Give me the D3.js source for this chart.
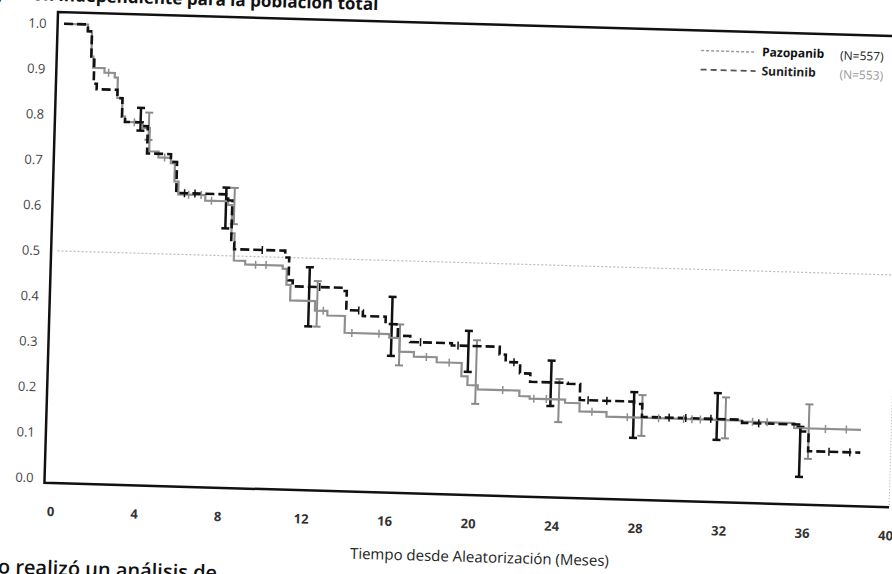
<!DOCTYPE html>
<html><head><meta charset="utf-8">
<script src="https://cdn.jsdelivr.net/npm/d3@7"></script>
<style>html,body{margin:0;padding:0;background:#fff;}svg{display:block;font-family:"Open Sans","DejaVu Sans",sans-serif;}</style>
</head><body>
<script>
const monthTicks = [0,4,8,12,16,20,24,28,32,36,40];
const survTicks = [0,0.1,0.2,0.3,0.4,0.5,0.6,0.7,0.8,0.9,1.0];
const seriesNames = ["Pazopanib","Sunitinib"];
const seriesN = ["(N=557)","(N=553)"];
const pazTime = [0,1.15,1.35,1.45,2.0,2.5,2.65,2.9,3.05,3.9,4.25,4.7,5.3,5.5,5.7,7.0,8.1,8.3,8.45,9.0,10.8,11.0,11.2,12.4,13.0,13.85,16.0,16.5,17.2,18.3,19.5,19.8,20.3,22.3,22.8,24.5,25.2,26.5,33.0,35.5,38.7];
const pazSurv = [1,0.985,0.93,0.905,0.895,0.885,0.84,0.80,0.788,0.776,0.725,0.712,0.70,0.66,0.632,0.62,0.612,0.55,0.49,0.482,0.475,0.44,0.406,0.385,0.375,0.338,0.33,0.30,0.29,0.279,0.25,0.231,0.222,0.21,0.205,0.198,0.18,0.17,0.168,0.157,0.157];
const sunTime = [0,1.15,1.35,1.5,1.65,2.65,2.9,3.05,3.9,4.15,5.3,5.6,8.1,8.3,8.45,10.9,11.1,11.3,13.8,13.9,14.7,15.8,16.4,17.0,19.0,21.3,21.6,22.3,22.8,24.6,25.2,27.8,28.2,33.0,35.8,36.2,38.7];
const sunSurv = [1,0.985,0.93,0.87,0.858,0.84,0.80,0.788,0.78,0.72,0.703,0.635,0.622,0.53,0.515,0.50,0.45,0.437,0.43,0.388,0.376,0.36,0.335,0.322,0.317,0.30,0.284,0.26,0.242,0.24,0.205,0.2,0.172,0.165,0.15,0.107,0.107];
const pazCensor = [2.2,3.5,5.0,6.2,6.8,7.3,9.5,10.0,12.8,14.2,15.5,17.8,18.9,21.5,23.0,23.6,25.8,27.5,29.0,30.2,30.6,31.0,33.5,34.2,37.0,38.0];
const sunCensor = [6.0,6.5,9.8,12.6,14.5,17.5,19.3,22.0,25.6,26.5,29.5,30.3,31.5,33.8,37.2,38.2];
const ciTime = [4,8.2,12.3,16.3,20,24,28,32,36];
const pazLo = [0.75,0.57,0.35,0.27,0.19,0.155,0.13,0.13,0.09];
const pazHi = [0.81,0.65,0.45,0.36,0.33,0.25,0.22,0.22,0.21];
const sunLo = [0.77,0.56,0.35,0.29,0.26,0.19,0.125,0.126,0.05];
const sunHi = [0.82,0.65,0.48,0.42,0.35,0.29,0.226,0.229,0.16];

const svg = d3.select("body").append("svg").attr("width",892).attr("height",574);
svg.append("rect").attr("width",892).attr("height",574).attr("fill","#fff");
const g = svg.append("g").attr("transform","rotate(1.65,58,12)");

const L=58, T=12, R=903, B=483;
const x = d3.scaleLinear().domain([0,40]).range([64.4,899.8]);
const y = d3.scaleLinear().domain([0,1]).range([478,23.6]);

// header text (cut off at the page top, as in the scan)
g.append("text").attr("x",378).attr("y",1).attr("text-anchor","end")
 .attr("font-size",17).attr("font-weight","bold").attr("fill","#111")
 .text("supervivencia libre de progresión independiente para la población total");

// reference line at 0.5
g.append("line").attr("x1",x(0)).attr("x2",x(40)).attr("y1",y(0.5)).attr("y2",y(0.5))
 .attr("stroke","#bbb").attr("stroke-width",1.2).attr("stroke-dasharray","2,2");

// frame
g.append("line").attr("x1",R).attr("x2",R).attr("y1",T).attr("y2",B).attr("stroke","#aaa").attr("stroke-width",1).attr("stroke-dasharray","1,2");
g.append("path").attr("d",`M${R},${T}H${L}V${B}H${R}`).attr("fill","none").attr("stroke","#111").attr("stroke-width",2.5);

// axes
const ya = g.append("g").attr("transform",`translate(${L},0)`)
 .call(d3.axisLeft(y).tickValues(survTicks).tickSize(0).tickPadding(11).tickFormat(d3.format(".1f")));
ya.select(".domain").remove();
ya.selectAll("text").attr("font-size",13).attr("fill","#444").attr("font-family","Open Sans");
const xa = g.append("g").attr("transform",`translate(0,${B})`)
 .call(d3.axisBottom(x).tickValues(monthTicks).tickSize(0).tickPadding(24));
xa.select(".domain").remove();
xa.selectAll("text").attr("font-size",13).attr("font-weight","bold").attr("fill","#333").attr("font-family","Open Sans");

g.append("text").attr("x",495).attr("y",550).attr("text-anchor","middle").attr("font-size",15).attr("fill","#222")
 .text("Tiempo desde Aleatorización (Meses)");
g.append("text").attr("x",14).attr("y",575).attr("font-size",20).attr("font-weight","600").attr("fill","#111")
 .text("o realizó un análisis de");

const line = d3.line().x(d=>x(d[0])).y(d=>y(d[1])).curve(d3.curveStepAfter);
const paz = pazTime.map((t,i)=>[t,pazSurv[i]]);
const sun = sunTime.map((t,i)=>[t,sunSurv[i]]);
function at(data,t){let v=data[0][1];for(const d of data){if(d[0]<=t)v=d[1];}return v;}

// CI bars
function ci(lo,hi,off,color,w){
  ciTime.forEach((t,i)=>{
    const cx=x(t+off);
    g.append("line").attr("x1",cx).attr("x2",cx).attr("y1",y(lo[i])).attr("y2",y(hi[i])).attr("stroke",color).attr("stroke-width",w);
    [lo[i],hi[i]].forEach(v=>g.append("line").attr("x1",cx-4).attr("x2",cx+4).attr("y1",y(v)).attr("y2",y(v)).attr("stroke",color).attr("stroke-width",w));
  });
}
ci(pazLo,pazHi,0.2,"#8a8a8a",2);
ci(sunLo,sunHi,-0.2,"#111",2.5);

g.append("path").datum(paz).attr("d",line).attr("fill","none").attr("stroke","#8f8f8f").attr("stroke-width",2.2);
g.append("path").datum(sun).attr("d",line).attr("fill","none").attr("stroke","#111").attr("stroke-width",2.6).attr("stroke-dasharray","9,4");

pazCensor.forEach(t=>g.append("line").attr("x1",x(t)).attr("x2",x(t)).attr("y1",y(at(paz,t))-4).attr("y2",y(at(paz,t))+4).attr("stroke","#8f8f8f").attr("stroke-width",1.5));
sunCensor.forEach(t=>g.append("line").attr("x1",x(t)).attr("x2",x(t)).attr("y1",y(at(sun,t))-4).attr("y2",y(at(sun,t))+4).attr("stroke","#111").attr("stroke-width",1.5));

// legend
const lg=[{c:"#9a9a9a",d:"3,2",w:1.5,tc:"#111",nc:"#222"},{c:"#555",d:"6,4",w:1.8,tc:"#222",nc:"#999"}];
seriesNames.forEach((s,i)=>{
  const yy=32+i*19;
  g.append("line").attr("x1",702).attr("x2",757).attr("y1",yy).attr("y2",yy).attr("stroke",lg[i].c).attr("stroke-width",lg[i].w).attr("stroke-dasharray",lg[i].d);
  g.append("text").attr("x",763).attr("y",yy+4).attr("font-size",12).attr("font-weight","bold").attr("fill",lg[i].tc).text(s);
  g.append("text").attr("x",841).attr("y",yy+5).attr("font-size",12).attr("fill",lg[i].nc).text(seriesN[i]);
});
</script>
</body></html>
